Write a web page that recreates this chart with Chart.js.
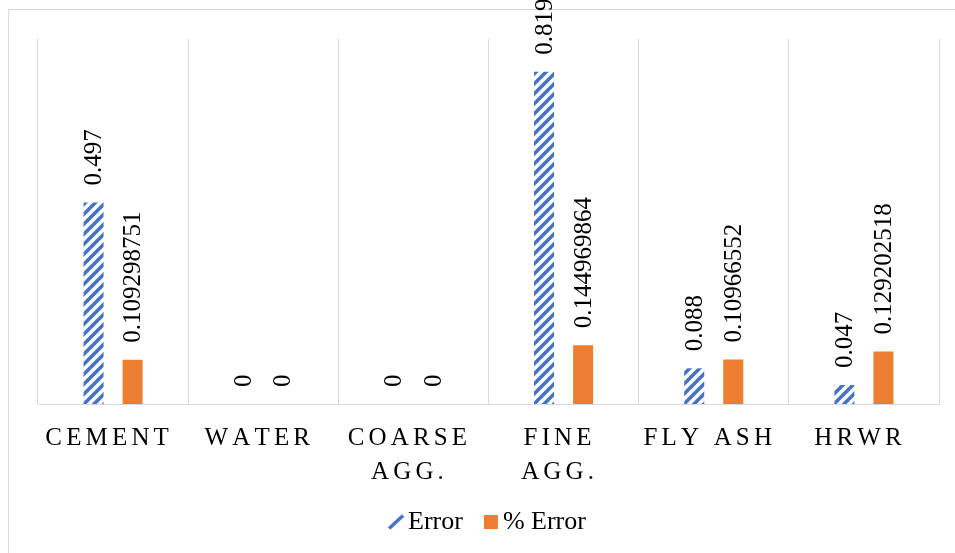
<!DOCTYPE html>
<html>
<head>
<meta charset="utf-8">
<script src="https://cdn.jsdelivr.net/npm/chart.js@4.4.1/dist/chart.umd.min.js"></script>
<style>
  html, body { margin: 0; padding: 0; background: #fff; overflow: hidden; width: 955px; height: 553px; }
  #frame { position: absolute; left: 8px; top: 9px; width: 990px; height: 600px; border: 1px solid #d9d9d9; }
  #chart { position: absolute; left: 8px; top: 0; }
</style>
</head>
<body>
<div id="frame"></div>
<canvas id="chart" width="962" height="553"></canvas>
<script>
const categories = ["CEMENT", "WATER", ["COARSE", "AGG."], ["FINE", "AGG."], "FLY ASH", "HRWR"];
const seriesNames = ["Error", "% Error"];
const errorValues = [0.497, 0, 0, 0.819, 0.088, 0.047];
const pctErrorValues = [0.109298751, 0, 0, 0.144969864, 0.10966552, 0.129202518];

const FONT = '"Liberation Serif", "Times New Roman", serif';
const BLUE = "#4472C4";
const ORANGE = "#ED7D31";

function makeHatch() {
  const c = document.createElement("canvas");
  c.width = 10;
  c.height = 10;
  const g = c.getContext("2d");
  g.strokeStyle = BLUE;
  g.lineWidth = 3.5;
  [-10, 0, 10].forEach(k => {
    g.beginPath();
    g.moveTo(k - 1, 11);
    g.lineTo(k + 11, -1);
    g.stroke();
  });
  return g.createPattern(c, "repeat");
}

function makeMarker(kind) {
  const c = document.createElement("canvas");
  c.width = 30;
  c.height = 26;
  const g = c.getContext("2d");
  if (kind === "hatch") {
    g.strokeStyle = BLUE;
    g.lineWidth = 3.5;
    g.beginPath();
    g.moveTo(11, 19.5);
    g.lineTo(25, 6.5);
    g.stroke();
  } else {
    g.fillStyle = ORANGE;
    g.fillRect(11, 6, 14, 14);
  }
  return c;
}

// letters in the category labels are spread out a little
function spaced(s) {
  return s.split("").join("\u2006");
}

const barLabels = {
  id: "barLabels",
  afterDatasetsDraw(chart) {
    const ctx = chart.ctx;
    ctx.save();
    ctx.font = "25px " + FONT;
    ctx.fillStyle = "#000";
    ctx.textAlign = "left";
    ctx.textBaseline = "middle";
    chart.data.datasets.forEach((ds, i) => {
      chart.getDatasetMeta(i).data.forEach((bar, j) => {
        ctx.save();
        ctx.translate(bar.x, bar.y - 17);
        ctx.rotate(-Math.PI / 2);
        ctx.fillText(String(ds.data[j]), 0, 1);
        ctx.restore();
      });
    });
    ctx.restore();
  }
};

const markers = [makeMarker("hatch"), makeMarker("square")];

new Chart(document.getElementById("chart"), {
  type: "bar",
  data: {
    labels: categories,
    datasets: [
      {
        label: seriesNames[0],
        data: errorValues,
        backgroundColor: makeHatch(),
        borderWidth: 0,
        categoryPercentage: 0.52,
        barPercentage: 0.513
      },
      {
        label: seriesNames[1],
        data: pctErrorValues,
        backgroundColor: ORANGE,
        borderWidth: 0,
        categoryPercentage: 0.52,
        barPercentage: 0.513
      }
    ]
  },
  options: {
    responsive: false,
    animation: false,
    layout: { padding: { left: 30, right: 31, top: 39, bottom: 8 } },
    plugins: {
      tooltip: { enabled: false },
      legend: {
        position: "bottom",
        labels: {
          color: "#000",
          font: { family: FONT, size: 26 },
          usePointStyle: true,
          pointStyleWidth: 4,
          padding: 23,
          generateLabels(chart) {
            const items = Chart.defaults.plugins.legend.labels.generateLabels(chart);
            items.forEach((item, i) => { item.pointStyle = markers[i]; });
            return items;
          }
        }
      }
    },
    scales: {
      x: {
        grid: { offset: true, color: "#d9d9d9", lineWidth: 1, drawTicks: false },
        border: { color: "#d9d9d9", width: 1 },
        ticks: {
          color: "#000",
          font: { family: FONT, size: 25, lineHeight: 1.36 },
          padding: 17,
          labelOffset: -6,
          maxRotation: 0,
          autoSkip: false,
          callback(value) {
            const label = this.getLabelForValue(value);
            return Array.isArray(label) ? label.map(spaced) : spaced(label);
          }
        },
        afterFit(scale) {
          scale.height = 82;
        }
      },
      y: {
        display: false,
        min: 0,
        max: 0.9
      }
    }
  },
  plugins: [barLabels]
});
</script>
</body>
</html>
